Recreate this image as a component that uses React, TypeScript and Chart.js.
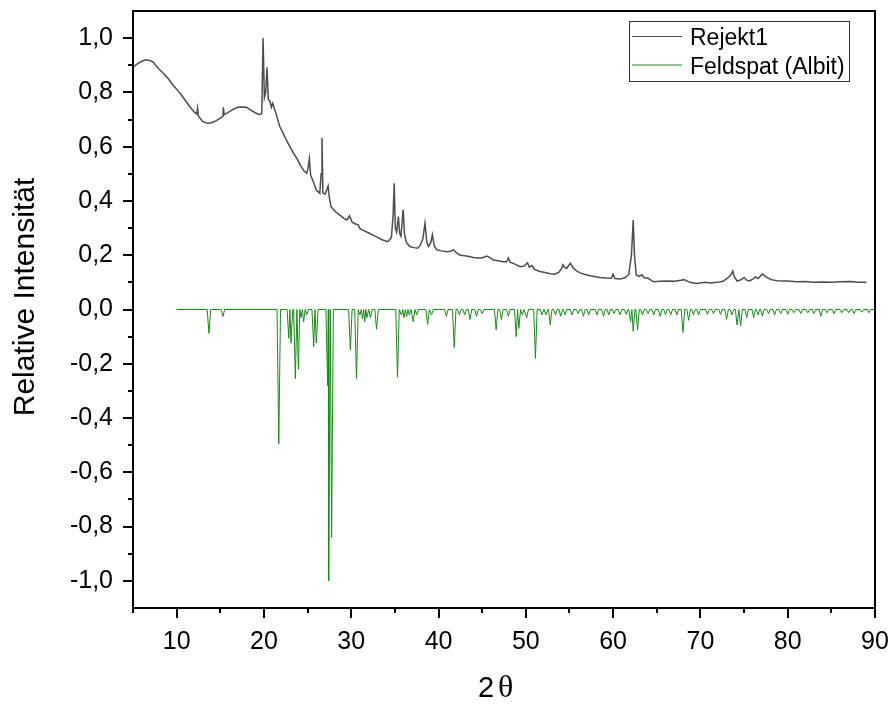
import React, { useEffect, useRef } from 'react';
import { Chart, registerables } from 'chart.js';

Chart.register(...registerables);

// ---- Data ----
const rejektX = [
  5.0, 5.5, 6.0, 6.5, 7.0, 7.3, 7.6, 8.0, 8.5, 9.0, 9.5, 10.0, 10.5, 11.0, 11.5, 12.0, 12.3, 12.4, 12.5,
  13.0, 13.5, 14.0, 14.5, 15.0, 15.3, 15.35, 15.45, 16.0, 16.5, 17.0, 17.5, 18.0, 18.5, 19.0, 19.5, 19.75,
  19.9, 20.05, 20.2, 20.35, 20.5, 20.7, 20.85, 21.0, 21.15, 21.4, 21.8, 22.2, 22.6, 23.0, 23.4, 23.8, 24.2,
  24.6, 24.9, 25.05, 25.2, 25.35, 25.6, 26.0, 26.4, 26.55, 26.65, 26.75, 27.0, 27.2, 27.35, 27.5, 27.7,
  28.2, 28.7, 29.2, 29.5, 29.8, 30.1, 30.5, 30.8, 31.0, 31.5, 32.0, 32.5, 33.0, 33.6, 34.2, 34.6, 34.8,
  34.92, 35.05, 35.2, 35.4, 35.55, 35.7, 35.85, 35.95, 36.1, 36.3, 36.7, 37.2, 37.6, 37.9, 38.2, 38.45,
  38.65, 38.85, 39.1, 39.3, 39.5, 39.8, 40.3, 40.9, 41.4, 41.7, 42.1, 42.5, 43.0, 43.5, 44.0, 44.5, 45.0,
  45.5, 45.8, 46.3, 46.8, 47.4, 47.8, 48.0, 48.2, 48.7, 49.35, 49.8, 50.2, 50.4, 50.7, 51.0, 51.6, 52.2,
  52.8, 53.3, 53.8, 54.1, 54.25, 54.45, 54.7, 54.9, 55.1, 55.4, 55.7, 56.2, 57.0, 57.8, 58.5, 59.2, 59.8,
  60.0, 60.2, 60.8, 61.4, 61.8, 62.1, 62.3, 62.45, 62.65, 63.0, 63.3, 63.5, 64.0, 64.65, 65.3, 66.2, 67.0,
  67.8, 68.1, 68.8, 69.6, 70.5, 71.2, 71.9, 72.6, 73.2, 73.5, 73.7, 73.9, 74.2, 74.7, 75.0, 75.3, 75.6,
  76.0, 76.3, 76.6, 77.1, 77.5, 78.1, 78.8, 79.5, 80.0, 81.0, 82.0, 83.0, 84.0, 85.0, 86.0, 87.3, 88.0, 89.0,
];
const rejektY = [
  0.893, 0.905, 0.915, 0.92, 0.917, 0.912, 0.9, 0.885, 0.87, 0.852, 0.83, 0.812, 0.792, 0.77, 0.748, 0.728, 0.72, 0.742, 0.712,
  0.692, 0.686, 0.688, 0.695, 0.705, 0.712, 0.745, 0.718, 0.728, 0.738, 0.745, 0.746, 0.745, 0.735, 0.725, 0.718, 0.722,
  1.0, 0.78, 0.8, 0.893, 0.775, 0.765, 0.745, 0.76, 0.745, 0.72, 0.675, 0.65, 0.622, 0.598, 0.575, 0.555, 0.53,
  0.51, 0.502, 0.52, 0.556, 0.495, 0.475, 0.44, 0.428, 0.5, 0.632, 0.43, 0.425, 0.44, 0.455, 0.41, 0.378,
  0.36, 0.348, 0.335, 0.33, 0.345, 0.322, 0.315, 0.312, 0.298, 0.29, 0.282, 0.274, 0.266, 0.256, 0.25, 0.265, 0.35,
  0.465, 0.3, 0.285, 0.342, 0.28, 0.27, 0.33, 0.368, 0.28, 0.248, 0.232, 0.228, 0.226, 0.236, 0.26, 0.318,
  0.25, 0.232, 0.245, 0.275, 0.235, 0.22, 0.216, 0.213, 0.215, 0.22, 0.208, 0.2, 0.198, 0.195, 0.192, 0.19, 0.19,
  0.197, 0.193, 0.182, 0.18, 0.176, 0.176, 0.19, 0.174, 0.168, 0.158, 0.16, 0.172, 0.156, 0.162, 0.148, 0.14, 0.136,
  0.132, 0.13, 0.138, 0.152, 0.165, 0.155, 0.152, 0.162, 0.17, 0.155, 0.145, 0.135, 0.127, 0.122, 0.118, 0.116, 0.115,
  0.13, 0.114, 0.112, 0.118, 0.13, 0.2, 0.33, 0.2, 0.127, 0.122, 0.128, 0.118, 0.115, 0.102, 0.104, 0.105, 0.104,
  0.108, 0.11, 0.1, 0.096, 0.1, 0.098, 0.1, 0.104, 0.118, 0.128, 0.142, 0.12, 0.105, 0.11, 0.118, 0.108, 0.105,
  0.112, 0.12, 0.114, 0.131, 0.12, 0.11, 0.106, 0.105, 0.105, 0.102, 0.103, 0.1, 0.101, 0.1, 0.102, 0.103, 0.1, 0.1,
];

// Albit reference pattern: peak positions (2θ) and (negative) relative intensities
const albitRange = [10, 90];
const albitPos = [
  13.7, 15.3, 21.7, 22.85, 23.1, 23.6, 23.95, 24.25, 24.55, 24.9, 25.7, 26.0, 27.3, 27.45, 27.75, 29.9, 30.6,
  31.0, 31.3, 31.55, 31.8, 32.2, 32.9, 35.3, 35.75, 36.05, 36.35, 36.65, 37.1, 37.5, 38.75, 39.2, 40.9, 41.8,
  42.4, 43.0, 43.6, 44.35, 45.0, 46.6, 47.2, 48.0, 48.9, 49.2, 49.6, 50.1, 51.1, 51.85, 52.3, 52.8, 53.4, 54.0,
  54.5, 55.3, 56.0, 56.6, 57.2, 58.15, 58.9, 59.5, 60.1, 60.8, 61.5, 62.0, 62.3, 62.8, 63.35, 64.0, 64.65, 65.4,
  66.0, 66.6, 67.3, 68.0, 68.65, 69.2, 69.8, 70.8, 71.5, 72.3, 73.0, 73.6, 74.2, 74.6, 75.3, 76.1, 76.6, 77.1,
  77.8, 78.5, 79.2, 80.0, 80.7, 81.5, 82.3, 83.0, 83.8, 84.5, 85.3, 86.2, 87.0, 87.6, 88.5, 89.3,
];
const albitVal = [
  -0.088, -0.026, -0.495, -0.106, -0.124, -0.255, -0.22, -0.03, -0.045, -0.02, -0.137, -0.124, -0.28, -1.0, -0.84, -0.149, -0.255,
  -0.02, -0.035, -0.045, -0.03, -0.03, -0.073, -0.25, -0.02, -0.03, -0.026, -0.02, -0.045, -0.02, -0.055, -0.02, -0.025, -0.14,
  -0.02, -0.02, -0.037, -0.025, -0.015, -0.075, -0.037, -0.025, -0.1, -0.07, -0.02, -0.03, -0.18, -0.02, -0.02, -0.057, -0.02, -0.025,
  -0.02, -0.02, -0.015, -0.025, -0.02, -0.02, -0.025, -0.02, -0.015, -0.02, -0.018, -0.045, -0.08, -0.075, -0.02, -0.015, -0.02, -0.025,
  -0.02, -0.02, -0.02, -0.085, -0.04, -0.02, -0.02, -0.018, -0.015, -0.018, -0.036, -0.02, -0.057, -0.061, -0.03, -0.03, -0.02, -0.025,
  -0.015, -0.02, -0.015, -0.018, -0.012, -0.015, -0.012, -0.015, -0.025, -0.012, -0.015, -0.012, -0.012, -0.015, -0.01, -0.012,
];

const xRange = [5, 90];
const yRange = [-1.1, 1.1];
const xMajorTicks = [10, 20, 30, 40, 50, 60, 70, 80, 90];
const xMinorTicks = [5, 15, 25, 35, 45, 55, 65, 75, 85];
const yMajorTicks = [-1.0, -0.8, -0.6, -0.4, -0.2, 0.0, 0.2, 0.4, 0.6, 0.8, 1.0];
const yMinorTicks = [-0.9, -0.7, -0.5, -0.3, -0.1, 0.1, 0.3, 0.5, 0.7, 0.9];

const seriesNames = ['Rejekt1', 'Feldspat (Albit)'];
const seriesColors = ['#4d4d4d', '#168c16'];

// ---- build tables for the library ----
const rejektPoints = rejektX.map((x, i) => ({ x, y: rejektY[i] }));

const albitPoints: { x: number; y: number }[] = [{ x: albitRange[0], y: 0 }];
albitPos.forEach((p, i) => {
  const prev = i > 0 ? albitPos[i - 1] : albitRange[0];
  const next = i < albitPos.length - 1 ? albitPos[i + 1] : albitRange[1];
  const hw = 0.2;
  const l = Math.max(p - hw, (p + prev) / 2);
  const r = Math.min(p + hw, (p + next) / 2);
  albitPoints.push({ x: l, y: 0 }, { x: p, y: albitVal[i] }, { x: r, y: 0 });
});
albitPoints.push({ x: albitRange[1], y: 0 });

const fmt = (v: number) => v.toFixed(1).replace('.', ',');
const SANS = '"Liberation Sans", Arial, sans-serif';

const decorPlugin = {
  id: 'decor',
  afterDraw(chart: any) {
    const { ctx } = chart;
    const xs = chart.scales.x;
    const ys = chart.scales.y;
    const L = xs.getPixelForValue(xRange[0]);
    const R = xs.getPixelForValue(xRange[1]);
    const T = ys.getPixelForValue(yRange[1]);
    const B = ys.getPixelForValue(yRange[0]);
    ctx.save();
    // frame
    ctx.strokeStyle = '#000';
    ctx.lineWidth = 2;
    ctx.strokeRect(L, T, R - L, B - T);
    // ticks
    ctx.beginPath();
    xMajorTicks.forEach((v) => {
      const px = Math.round(xs.getPixelForValue(v));
      ctx.moveTo(px, B);
      ctx.lineTo(px, B + 10);
    });
    xMinorTicks.forEach((v) => {
      const px = Math.round(xs.getPixelForValue(v));
      ctx.moveTo(px, B);
      ctx.lineTo(px, B + 5);
    });
    yMajorTicks.forEach((v) => {
      const py = Math.round(ys.getPixelForValue(v));
      ctx.moveTo(L, py);
      ctx.lineTo(L - 10, py);
    });
    yMinorTicks.forEach((v) => {
      const py = Math.round(ys.getPixelForValue(v));
      ctx.moveTo(L, py);
      ctx.lineTo(L - 5, py);
    });
    ctx.stroke();

    // legend
    ctx.lineWidth = 1;
    ctx.strokeStyle = '#333';
    ctx.strokeRect(629.5, 21.5, 220, 60);
    const rows = [36.5, 65];
    const bases = [45, 73.5];
    seriesNames.forEach((name, i) => {
      ctx.strokeStyle = seriesColors[i];
      ctx.lineWidth = 1.2;
      ctx.beginPath();
      ctx.moveTo(632, rows[i]);
      ctx.lineTo(682, rows[i]);
      ctx.stroke();
      ctx.fillStyle = '#000';
      ctx.font = '23px ' + SANS;
      ctx.textAlign = 'left';
      ctx.textBaseline = 'alphabetic';
      ctx.fillText(name, 690, bases[i]);
    });

    // y title
    ctx.save();
    ctx.translate(33.5, 297);
    ctx.rotate(-Math.PI / 2);
    ctx.font = '30px ' + SANS;
    ctx.textAlign = 'center';
    ctx.textBaseline = 'alphabetic';
    ctx.fillStyle = '#000';
    ctx.fillText('Relative Intensität', 0, 0);
    ctx.restore();

    // x title "2 θ"
    ctx.fillStyle = '#000';
    ctx.textAlign = 'left';
    ctx.textBaseline = 'alphabetic';
    ctx.font = '29px ' + SANS;
    ctx.fillText('2', 478, 697);
    ctx.font = '32px "Liberation Serif", "Times New Roman", serif';
    ctx.fillText('θ', 498, 697);
    ctx.restore();
  },
};

export default function App() {
  const ref = useRef<HTMLCanvasElement | null>(null);
  useEffect(() => {
    if (!ref.current) return;
    const chart = new Chart(ref.current, {
      type: 'line',
      data: {
        datasets: [
          {
            label: seriesNames[0],
            data: rejektPoints,
            borderColor: seriesColors[0],
            borderWidth: 1.5,
            pointRadius: 0,
            tension: 0,
          },
          {
            label: seriesNames[1],
            data: albitPoints,
            borderColor: seriesColors[1],
            borderWidth: 1,
            pointRadius: 0,
            tension: 0,
          },
        ],
      },
      options: {
        responsive: false,
        animation: false,
        layout: { padding: { top: 11, right: 17, left: 0, bottom: 0 } },
        plugins: { legend: { display: false }, tooltip: { enabled: false } },
        scales: {
          x: {
            type: 'linear',
            min: xRange[0],
            max: xRange[1],
            grid: { display: false, drawTicks: false },
            border: { display: false },
            ticks: {
              autoSkip: false,
              maxRotation: 0,
              padding: 19,
              color: '#000',
              font: { family: SANS, size: 25 },
              callback: (v: any) => String(v),
            },
            afterBuildTicks: (s: any) => {
              s.ticks = xMajorTicks.map((v) => ({ value: v }));
            },
            afterFit: (s: any) => {
              s.height = 98;
              s.paddingLeft = 0;
              s.paddingRight = 0;
            },
          },
          y: {
            type: 'linear',
            min: yRange[0],
            max: yRange[1],
            grid: { display: false, drawTicks: false },
            border: { display: false },
            ticks: {
              autoSkip: false,
              padding: 20,
              color: '#000',
              font: { family: SANS, size: 25 },
              callback: (v: any) => fmt(Number(v)),
            },
            afterBuildTicks: (s: any) => {
              s.ticks = yMajorTicks.map((v) => ({ value: v }));
            },
            afterFit: (s: any) => {
              s.width = 133;
              s.paddingTop = 0;
              s.paddingBottom = 0;
            },
          },
        },
      },
      plugins: [decorPlugin],
    });
    return () => chart.destroy();
  }, []);
  return (
    <div style={{ position: 'fixed', left: 0, top: 0, width: 892, height: 706, background: '#fff' }}>
      <canvas ref={ref} width={892} height={706} style={{ display: 'block' }} />
    </div>
  );
}
